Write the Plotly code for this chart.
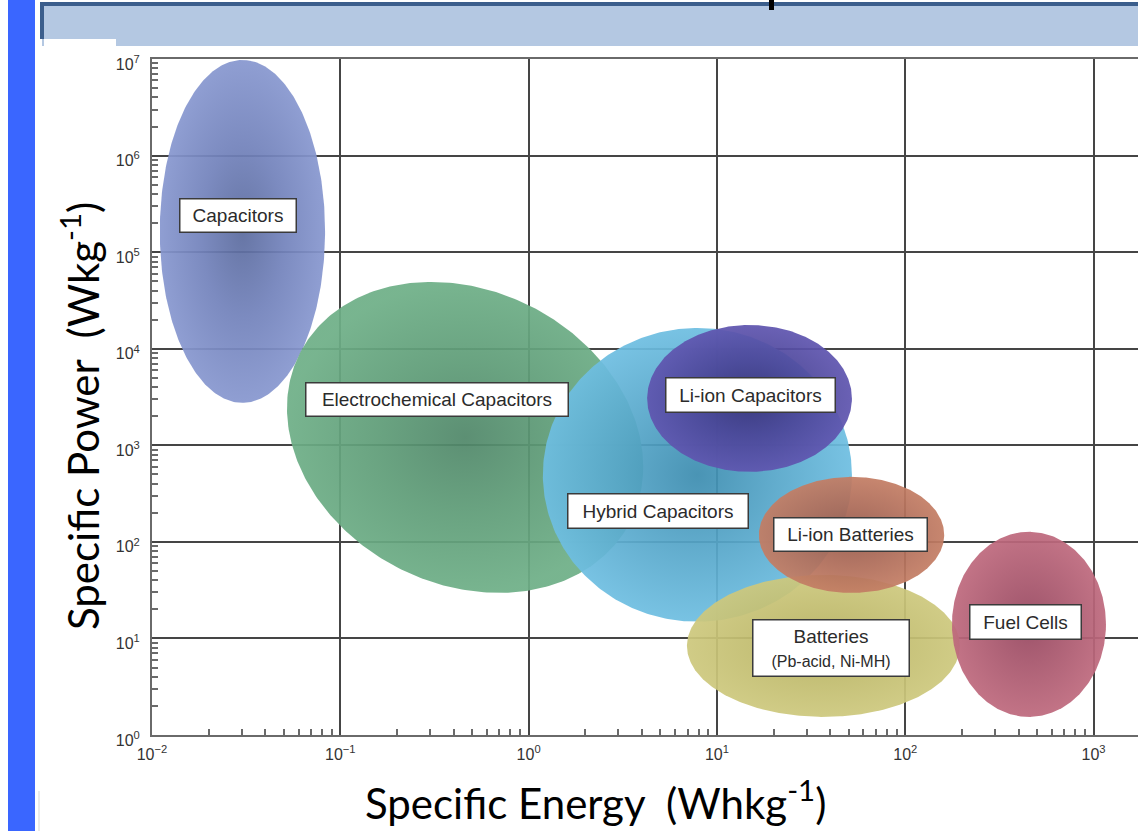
import numpy as np
import plotly.graph_objects as go

# Ragone plot: operating region of each storage technology
technologies = ["Capacitors", "Electrochemical Capacitors", "Hybrid Capacitors",
                "Li-ion Capacitors", "Batteries", "Li-ion Batteries", "Fuel Cells"]
energy_min = [0.0110, 0.0521, 1.19, 4.26, 6.93, 16.7, 177.0]      # Wh/kg
energy_max = [0.0830, 4.06, 52.1, 52.1, 195.0, 161.0, 1164.0]     # Wh/kg
power_min = [2750.0, 29.6, 14.9, 531.0, 1.54, 29.6, 1.54]         # W/kg
power_max = [9.77e6, 4.92e4, 1.64e4, 1.76e4, 45.5, 471.0, 127.0]  # W/kg
tilt = [0.0, -0.19, 0.0, 0.0, 0.0, 0.0, 0.0]

# label boxes (text and the energy/power point they sit on)
label_text = ["Capacitors", "Electrochemical Capacitors", "Hybrid Capacitors",
              "Li-ion Capacitors",
              "Batteries<br><span style='font-size:16px'>(Pb-acid, Ni-MH)</span>",
              "Li-ion Batteries", "Fuel Cells"]
label_energy = [0.0286, 0.327, 4.86, 15.0, 40.4, 50.9, 437.0]
label_power = [2.37e5, 2951.0, 209.0, 3327.0, 8.0, 118.0, 14.9]

energy_ticks = [1e-2, 1e-1, 1e0, 1e1, 1e2, 1e3]
energy_ticktext = ["10<sup>\u22122</sup>", "10<sup>\u22121</sup>", "10<sup>0</sup>",
                   "10<sup>1</sup>", "10<sup>2</sup>", "10<sup>3</sup>"]
power_ticks = [1e0, 1e1, 1e2, 1e3, 1e4, 1e5, 1e6, 1e7]
power_ticktext = ["10<sup>%d</sup>" % k for k in range(8)]

# styling
center_colors = ["#5b6b9e", "#508769", "#3c8caf", "#373278", "#b2ad5e", "#965a4b", "#96465f"]
edge_colors = ["#8797cf", "#6eaf87", "#6ebee1", "#5f55af", "#cdc87d", "#c37d64", "#be697d"]
mid_colors = ["#7282bb", "#5f9d78", "#56a6c9", "#4a4497", "#c1bc6e", "#ad6b58", "#aa586e"]
box_w = [118, 264, 182, 171, 158, 155, 113]
box_h = [35, 35, 36, 36, 58, 35, 36]

W, H = 1138, 831
L, T, R, B = 152, 59, 1138, 735
X_RANGE = [-2, 3.236]
Y_RANGE = [0, 7]

fig = go.Figure()

t = np.linspace(0, 2 * np.pi, 361)
for i, name in enumerate(technologies):
    cx = (np.log10(energy_min[i]) + np.log10(energy_max[i])) / 2
    ax = (np.log10(energy_max[i]) - np.log10(energy_min[i])) / 2
    cy = (np.log10(power_min[i]) + np.log10(power_max[i])) / 2
    ay = (np.log10(power_max[i]) - np.log10(power_min[i])) / 2
    lx = cx + ax * np.cos(t)
    ly = cy + ay * np.sin(t + tilt[i])
    fig.add_trace(go.Scatter(
        x=10 ** lx, y=10 ** ly, mode="lines", fill="toself",
        line=dict(width=0, color=edge_colors[i]),
        fillcolor=edge_colors[i],
        fillgradient=dict(type="radial",
                          colorscale=[[0, center_colors[i]], [0.5, mid_colors[i]],
                                      [1, edge_colors[i]]]),
        opacity=0.93, name=name, hoverinfo="skip", showlegend=False))

annotations = []
for i in range(len(label_text)):
    annotations.append(dict(
        x=np.log10(label_energy[i]), y=np.log10(label_power[i]), xref="x", yref="y",
        text=label_text[i], showarrow=False,
        font=dict(family="Liberation Sans, Arial, sans-serif", size=19, color="#2b2b2b"),
        bgcolor="white", bordercolor="#3a3a3a", borderwidth=1.5, borderpad=1,
        width=box_w[i] - 5, height=box_h[i] - 5, align="center", valign="middle"))


def px(x):
    return (x - L) / (R - L)


def py(y):
    return (B - y) / (B - T)


title_font = dict(family="Lato, Open Sans, sans-serif", size=42, color="black")
annotations.append(dict(x=px(595), y=py(800), xref="paper", yref="paper",
                        text="Specific Energy  (Whkg<sup>-1</sup>)", showarrow=False,
                        font=title_font, xanchor="center", yanchor="middle"))
annotations.append(dict(x=px(80), y=py(416), xref="paper", yref="paper",
                        text="Specific Power  (Wkg<sup>-1</sup>)", showarrow=False,
                        textangle=-90, font=title_font, xanchor="center", yanchor="middle"))


def rect(x0, y0, x1, y1, color):
    return dict(type="rect", xref="paper", yref="paper", x0=px(x0), x1=px(x1),
                y0=py(y1), y1=py(y0), fillcolor=color, line=dict(width=0), layer="above")


shapes = [
    rect(8, 0, 35, H, "#3a66ff"),
    rect(42, 4, 1140, 46, "#b4c8e2"),
    rect(40, 2, 1140, 6, "#3b5e8c"),
    rect(40, 2, 44, 39, "#3b5e8c"),
    rect(44, 39, 116, 46, "white"),
    rect(769, 0, 774, 10, "black"),
    rect(38.5, 791, 39.5, H, "#d6d6d6"),
]

minor_x = [m * 10.0 ** k for k in range(-2, 4) for m in range(2, 10)]
minor_y = [m * 10.0 ** k for k in range(0, 7) for m in range(2, 10)]

tick_font = dict(family="Liberation Sans, Arial, sans-serif", size=16, color="#333333")
fig.update_layout(
    width=W, height=H,
    margin=dict(l=L, r=W - R, t=T, b=H - B, pad=0),
    paper_bgcolor="white", plot_bgcolor="white",
    showlegend=False,
    xaxis=dict(type="log", range=X_RANGE, tickmode="array", tickvals=energy_ticks,
               ticktext=energy_ticktext, tickfont=tick_font, ticks="",
               ticklabelstandoff=4,
               showgrid=True, gridcolor="#454545", gridwidth=1.5,
               showline=True, linecolor="#6a6a6a", linewidth=2, mirror=True,
               zeroline=False,
               minor=dict(tickmode="array", tickvals=minor_x, ticks="inside",
                          ticklen=6, tickwidth=1.5, tickcolor="#6a6a6a", showgrid=False)),
    yaxis=dict(type="log", range=Y_RANGE, tickmode="array", tickvals=power_ticks,
               ticktext=power_ticktext, tickfont=tick_font, ticks="",
               ticklabelstandoff=7, ticklabelshift=5,
               showgrid=True, gridcolor="#454545", gridwidth=1.5,
               showline=True, linecolor="#6a6a6a", linewidth=2, mirror=False,
               zeroline=False,
               minor=dict(tickmode="array", tickvals=minor_y, ticks="inside",
                          ticklen=6, tickwidth=1.5, tickcolor="#6a6a6a", showgrid=False)),
    annotations=annotations,
    shapes=shapes,
)

fig.write_html("out.html")
